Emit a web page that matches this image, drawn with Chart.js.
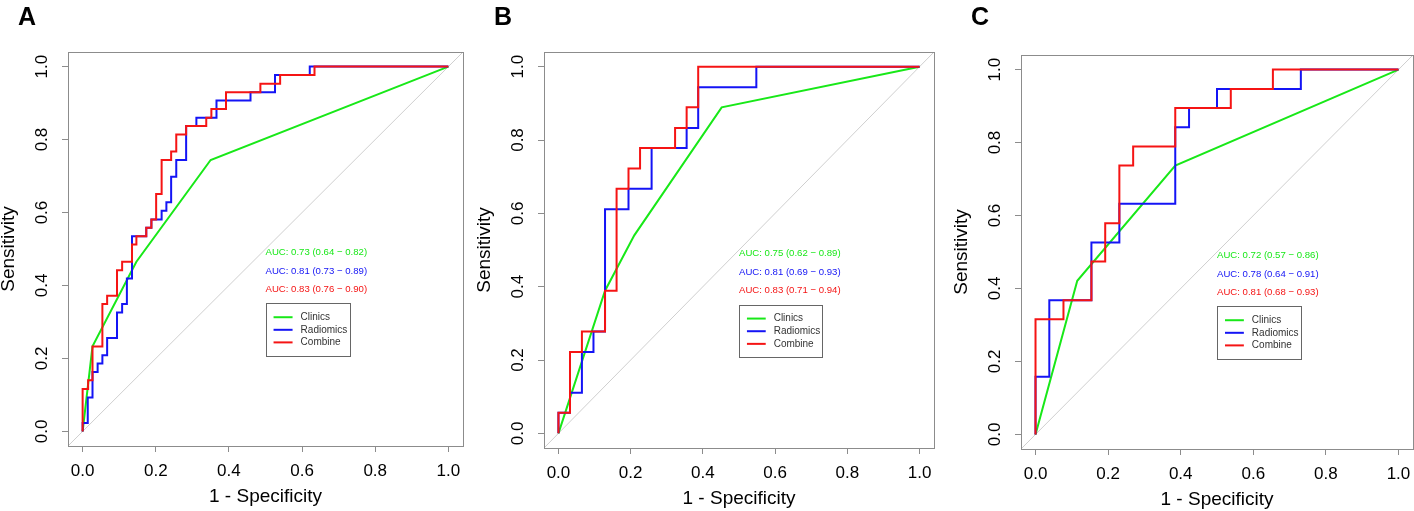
<!DOCTYPE html>
<html>
<head>
<meta charset="utf-8">
<script src="https://cdn.jsdelivr.net/npm/chart.js@4.4.1/dist/chart.umd.min.js"></script>
<style>
  html, body { margin: 0; padding: 0; background: #fff; }
  #wrap { position: relative; width: 1414px; height: 511px; overflow: hidden; }
  canvas { position: absolute; top: 0; }
</style>
</head>
<body>
<div id="wrap">
  <canvas id="rocA" width="470" height="511" style="left:0px"></canvas>
  <canvas id="rocB" width="470" height="511" style="left:470px"></canvas>
  <canvas id="rocC" width="474" height="511" style="left:940px"></canvas>
</div>
<script>
// model names and colours (same in all three panels)
const models = ['Clinics', 'Radiomics', 'Combine'];
const modelColors = ['#18e818', '#1414f5', '#f51414'];
const tickVals = [0, 0.2, 0.4, 0.6, 0.8, 1.0];
const chanceLine = [-0.04, 1.04];

// Panel A - ROC points (1 - specificity, sensitivity)
const clinA_x = [0, 0.027, 0.147, 0.350, 1];
const clinA_y = [0, 0.233, 0.465, 0.744, 1];
const radA_x = [0, 0.014, 0.027, 0.041, 0.054, 0.067, 0.094, 0.108, 0.121, 0.135, 0.174, 0.188, 0.216, 0.229, 0.242, 0.256, 0.283, 0.311, 0.366, 0.459, 0.526, 0.621, 1];
const radA_y = [0, 0.023, 0.093, 0.163, 0.186, 0.209, 0.256, 0.326, 0.349, 0.419, 0.535, 0.558, 0.581, 0.605, 0.628, 0.698, 0.744, 0.837, 0.860, 0.907, 0.930, 0.977, 1];
const combA_x = [0, 0.015, 0.027, 0.054, 0.067, 0.094, 0.108, 0.135, 0.147, 0.174, 0.188, 0.201, 0.216, 0.242, 0.256, 0.283, 0.338, 0.352, 0.392, 0.486, 0.540, 0.634, 1];
const combA_y = [0, 0.116, 0.140, 0.233, 0.349, 0.372, 0.442, 0.465, 0.512, 0.535, 0.558, 0.581, 0.651, 0.744, 0.767, 0.814, 0.837, 0.860, 0.884, 0.930, 0.953, 0.977, 1];
const aucA = [[0.73, 0.64, 0.82], [0.81, 0.73, 0.89], [0.83, 0.76, 0.90]];

// Panel B
const clinB_x = [0, 0.129, 0.21, 0.452, 1];
const clinB_y = [0, 0.389, 0.54, 0.889, 1];
const radB_x = [0, 0.032, 0.065, 0.097, 0.129, 0.194, 0.258, 0.355, 0.387, 0.548, 1];
const radB_y = [0, 0.056, 0.111, 0.222, 0.278, 0.611, 0.667, 0.778, 0.833, 0.944, 1];
const combB_x = [0, 0.032, 0.065, 0.129, 0.161, 0.194, 0.226, 0.323, 0.355, 0.387, 1];
const combB_y = [0, 0.056, 0.222, 0.278, 0.389, 0.667, 0.722, 0.778, 0.833, 0.889, 1];
const aucB = [[0.75, 0.62, 0.89], [0.81, 0.69, 0.93], [0.83, 0.71, 0.94]];

// Panel C
const clinC_x = [0, 0.115, 0.385, 1];
const clinC_y = [0, 0.421, 0.737, 1];
const radC_x = [0, 0.038, 0.154, 0.231, 0.385, 0.423, 0.500, 0.731, 1];
const radC_y = [0, 0.158, 0.368, 0.526, 0.632, 0.842, 0.895, 0.947, 1];
const combC_x = [0, 0.077, 0.154, 0.192, 0.231, 0.269, 0.385, 0.538, 0.654, 1];
const combC_y = [0, 0.316, 0.368, 0.474, 0.579, 0.737, 0.789, 0.895, 0.947, 1];
const aucC = [[0.72, 0.57, 0.86], [0.78, 0.64, 0.91], [0.81, 0.68, 0.93]];

const fontFam = '"Liberation Sans", Arial, Helvetica, sans-serif';
Chart.defaults.font.family = fontFam;
Chart.defaults.color = '#000';

function pts(xs, ys) {
  return xs.map((x, i) => ({ x: x, y: ys[i] }));
}

// box, rotated y labels, panel letter, AUC text and legend
const rocDecor = {
  id: 'rocDecor',
  afterDraw(chart, args, opts) {
    const ctx = chart.ctx;
    const a = chart.chartArea;
    const xs = chart.scales.x, ys = chart.scales.y;
    ctx.save();
    ctx.strokeStyle = '#8c8c8c';
    ctx.lineWidth = 1;
    ctx.strokeRect(Math.round(a.left) + 0.5, Math.round(a.top) + 0.5,
      Math.round(a.right - a.left), Math.round(a.bottom - a.top));

    // y tick labels, rotated like base R
    ctx.fillStyle = '#000';
    ctx.font = '17px ' + fontFam;
    ctx.textAlign = 'center';
    ctx.textBaseline = 'alphabetic';
    tickVals.forEach(v => {
      ctx.save();
      ctx.translate(a.left - 21, ys.getPixelForValue(v));
      ctx.rotate(-Math.PI / 2);
      ctx.fillText(v.toFixed(1), 0, 0);
      ctx.restore();
    });
    // y title
    ctx.save();
    ctx.font = '19px ' + fontFam;
    ctx.translate(a.left - 54, (a.top + a.bottom) / 2);
    ctx.rotate(-Math.PI / 2);
    ctx.fillText('Sensitivity', 0, 0);
    ctx.restore();

    // panel letter
    ctx.font = 'bold 25px ' + fontFam;
    ctx.textAlign = 'left';
    ctx.fillText(opts.letter, a.left - 50, 25);

    // AUC lines
    ctx.font = '9.6px ' + fontFam;
    ctx.textBaseline = 'middle';
    opts.auc.forEach((r, i) => {
      ctx.fillStyle = modelColors[i];
      const txt = 'AUC: ' + r[0].toFixed(2) + ' (' + r[1].toFixed(2) + ' \u2212 ' + r[2].toFixed(2) + ')';
      ctx.fillText(txt, xs.getPixelForValue(0.5), ys.getPixelForValue(0.49 - 0.05 * i));
    });

    // legend
    const lx0 = Math.round(xs.getPixelForValue(0.5)) + 0.5;
    const lx1 = Math.round(xs.getPixelForValue(0.731)) + 0.5;
    const ly0 = Math.round(ys.getPixelForValue(0.351)) + 0.5;
    const ly1 = Math.round(ys.getPixelForValue(0.208)) + 0.5;
    ctx.fillStyle = '#fff';
    ctx.fillRect(lx0, ly0, lx1 - lx0, ly1 - ly0);
    ctx.strokeStyle = '#666';
    ctx.strokeRect(lx0, ly0, lx1 - lx0, ly1 - ly0);
    ctx.font = '10px ' + fontFam;
    models.forEach((m, i) => {
      const yy = ys.getPixelForValue(0.313 - 0.0345 * i);
      ctx.strokeStyle = modelColors[i];
      ctx.lineWidth = 2;
      ctx.beginPath();
      ctx.moveTo(xs.getPixelForValue(0.522), yy);
      ctx.lineTo(xs.getPixelForValue(0.574), yy);
      ctx.stroke();
      ctx.fillStyle = '#333';
      ctx.fillText(m, xs.getPixelForValue(0.596), yy);
    });
    ctx.restore();
  }
};

function makeRoc(id, letter, clin, rad, comb, auc, yWidth, pad) {
  const line = (data, color, stepped) => ({
    data: data, borderColor: color, borderWidth: 2, pointRadius: 0,
    showLine: true, fill: false, stepped: stepped, tension: 0
  });
  return new Chart(document.getElementById(id), {
    type: 'scatter',
    data: {
      datasets: [
        line(comb, modelColors[2], 'after'),
        line(rad, modelColors[1], 'after'),
        line(clin, modelColors[0], false),
        { data: pts(chanceLine, chanceLine), borderColor: '#cfcfcf', borderWidth: 1,
          pointRadius: 0, showLine: true, fill: false }
      ]
    },
    options: {
      responsive: false,
      animation: false,
      layout: { padding: pad },
      plugins: {
        legend: { display: false },
        tooltip: { enabled: false },
        rocDecor: { letter: letter, auc: auc }
      },
      scales: {
        x: {
          type: 'linear', min: -0.04, max: 1.04,
          afterBuildTicks: s => { s.ticks = tickVals.map(v => ({ value: v })); },
          afterFit: s => { s.height = 62; s.paddingLeft = 0; s.paddingRight = 0; },
          ticks: { callback: v => v.toFixed(1), font: { size: 17 }, color: '#000', padding: 9, maxRotation: 0, autoSkip: false },
          grid: { drawOnChartArea: false, drawTicks: true, tickLength: 6, color: '#8c8c8c' },
          border: { display: false },
          title: { display: true, text: '1 - Specificity', font: { size: 19 }, color: '#000', padding: { top: 0, bottom: 0 } }
        },
        y: {
          type: 'linear', min: -0.04, max: 1.04,
          afterBuildTicks: s => { s.ticks = tickVals.map(v => ({ value: v })); },
          afterFit: s => { s.width = yWidth; s.paddingTop = 0; s.paddingBottom = 0; },
          ticks: { callback: () => '' },
          grid: { drawOnChartArea: false, drawTicks: true, tickLength: 6, color: '#8c8c8c' },
          border: { display: false }
        }
      }
    },
    plugins: [rocDecor]
  });
}

makeRoc('rocA', 'A', pts(clinA_x, clinA_y), pts(radA_x, radA_y), pts(combA_x, combA_y), aucA,
  68, { left: 0, right: 7, top: 52, bottom: 3 });
makeRoc('rocB', 'B', pts(clinB_x, clinB_y), pts(radB_x, radB_y), pts(combB_x, combB_y), aucB,
  74, { left: 0, right: 6, top: 52, bottom: 1 });
makeRoc('rocC', 'C', pts(clinC_x, clinC_y), pts(radC_x, radC_y), pts(combC_x, combC_y), aucC,
  81, { left: 0, right: 1, top: 55, bottom: 0 });
</script>
</body>
</html>
